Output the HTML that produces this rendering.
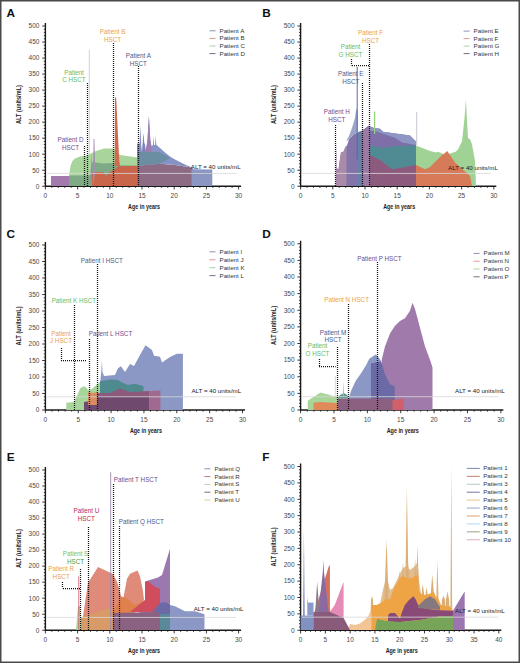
<!DOCTYPE html>
<html><head><meta charset="utf-8"><style>
html,body{margin:0;padding:0;background:#fff;}
svg{display:block;}
</style></head><body>
<svg width="520" height="663" viewBox="0 0 520 663" font-family='"Liberation Sans", sans-serif'>
<rect x="0" y="0" width="520" height="663" fill="#fff"/>
<path d="M42.20 186.25H45.40M43.80 183.04H45.40M43.80 179.84H45.40M43.80 176.63H45.40M43.80 173.43H45.40M42.20 170.22H45.40M43.80 167.02H45.40M43.80 163.81H45.40M43.80 160.61H45.40M43.80 157.41H45.40M42.20 154.20H45.40M43.80 151.00H45.40M43.80 147.79H45.40M43.80 144.59H45.40M43.80 141.38H45.40M42.20 138.18H45.40M43.80 134.97H45.40M43.80 131.76H45.40M43.80 128.56H45.40M43.80 125.35H45.40M42.20 122.15H45.40M43.80 118.94H45.40M43.80 115.74H45.40M43.80 112.53H45.40M43.80 109.33H45.40M42.20 106.12H45.40M43.80 102.92H45.40M43.80 99.72H45.40M43.80 96.51H45.40M43.80 93.30H45.40M42.20 90.10H45.40M43.80 86.89H45.40M43.80 83.69H45.40M43.80 80.48H45.40M43.80 77.28H45.40M42.20 74.08H45.40M43.80 70.87H45.40M43.80 67.66H45.40M43.80 64.46H45.40M43.80 61.25H45.40M42.20 58.05H45.40M43.80 54.84H45.40M43.80 51.64H45.40M43.80 48.44H45.40M43.80 45.23H45.40M42.20 42.03H45.40M43.80 38.82H45.40M43.80 35.62H45.40M43.80 32.41H45.40M43.80 29.20H45.40M42.20 26.00H45.40M45.40 186.25V189.45M51.84 186.25V187.85M58.28 186.25V187.85M64.72 186.25V187.85M71.16 186.25V187.85M77.60 186.25V189.45M84.04 186.25V187.85M90.48 186.25V187.85M96.92 186.25V187.85M103.36 186.25V187.85M109.80 186.25V189.45M116.24 186.25V187.85M122.68 186.25V187.85M129.12 186.25V187.85M135.56 186.25V187.85M142.00 186.25V189.45M148.44 186.25V187.85M154.88 186.25V187.85M161.32 186.25V187.85M167.76 186.25V187.85M174.20 186.25V189.45M180.64 186.25V187.85M187.08 186.25V187.85M193.52 186.25V187.85M199.96 186.25V187.85M206.40 186.25V189.45M212.84 186.25V187.85M219.28 186.25V187.85M225.72 186.25V187.85M232.16 186.25V187.85M238.60 186.25V189.45" stroke="#222" stroke-width="0.9" fill="none"/>
<path d="M45.40 23.00V186.25H241.10" stroke="#1a1a1a" stroke-width="1.4" fill="none"/>
<g font-size="6.5" fill="#484848"><text x="39.40" y="188.55" text-anchor="end">0</text><text x="39.40" y="172.53" text-anchor="end">50</text><text x="39.40" y="156.50" text-anchor="end">100</text><text x="39.40" y="140.48" text-anchor="end">150</text><text x="39.40" y="124.45" text-anchor="end">200</text><text x="39.40" y="108.42" text-anchor="end">250</text><text x="39.40" y="92.40" text-anchor="end">300</text><text x="39.40" y="76.38" text-anchor="end">350</text><text x="39.40" y="60.35" text-anchor="end">400</text><text x="39.40" y="44.33" text-anchor="end">450</text><text x="39.40" y="28.30" text-anchor="end">500</text><text x="45.40" y="198.45" text-anchor="middle">0</text><text x="77.60" y="198.45" text-anchor="middle">5</text><text x="109.80" y="198.45" text-anchor="middle">10</text><text x="142.00" y="198.45" text-anchor="middle">15</text><text x="174.20" y="198.45" text-anchor="middle">20</text><text x="206.40" y="198.45" text-anchor="middle">25</text><text x="238.60" y="198.45" text-anchor="middle">30</text></g>
<text transform="translate(20.90,104.62) rotate(-90)" text-anchor="middle" font-size="7.4" font-weight="bold" fill="#222" textLength="39" lengthAdjust="spacingAndGlyphs">ALT (units/mL)</text>
<text x="144.00" y="209.25" text-anchor="middle" font-size="7.4" font-weight="bold" fill="#222" textLength="32" lengthAdjust="spacingAndGlyphs">Age in years</text>
<text x="6.5" y="17" font-size="11.8" font-weight="bold" fill="#111">A</text>
<path d="M297.40 186.25H300.60M299.00 183.04H300.60M299.00 179.84H300.60M299.00 176.63H300.60M299.00 173.43H300.60M297.40 170.22H300.60M299.00 167.02H300.60M299.00 163.81H300.60M299.00 160.61H300.60M299.00 157.41H300.60M297.40 154.20H300.60M299.00 151.00H300.60M299.00 147.79H300.60M299.00 144.59H300.60M299.00 141.38H300.60M297.40 138.18H300.60M299.00 134.97H300.60M299.00 131.76H300.60M299.00 128.56H300.60M299.00 125.35H300.60M297.40 122.15H300.60M299.00 118.94H300.60M299.00 115.74H300.60M299.00 112.53H300.60M299.00 109.33H300.60M297.40 106.12H300.60M299.00 102.92H300.60M299.00 99.72H300.60M299.00 96.51H300.60M299.00 93.30H300.60M297.40 90.10H300.60M299.00 86.89H300.60M299.00 83.69H300.60M299.00 80.48H300.60M299.00 77.28H300.60M297.40 74.08H300.60M299.00 70.87H300.60M299.00 67.66H300.60M299.00 64.46H300.60M299.00 61.25H300.60M297.40 58.05H300.60M299.00 54.84H300.60M299.00 51.64H300.60M299.00 48.44H300.60M299.00 45.23H300.60M297.40 42.03H300.60M299.00 38.82H300.60M299.00 35.62H300.60M299.00 32.41H300.60M299.00 29.20H300.60M297.40 26.00H300.60M300.60 186.25V189.45M307.04 186.25V187.85M313.48 186.25V187.85M319.92 186.25V187.85M326.36 186.25V187.85M332.80 186.25V189.45M339.24 186.25V187.85M345.68 186.25V187.85M352.12 186.25V187.85M358.56 186.25V187.85M365.00 186.25V189.45M371.44 186.25V187.85M377.88 186.25V187.85M384.32 186.25V187.85M390.76 186.25V187.85M397.20 186.25V189.45M403.64 186.25V187.85M410.08 186.25V187.85M416.52 186.25V187.85M422.96 186.25V187.85M429.40 186.25V189.45M435.84 186.25V187.85M442.28 186.25V187.85M448.72 186.25V187.85M455.16 186.25V187.85M461.60 186.25V189.45M468.04 186.25V187.85M474.48 186.25V187.85M480.92 186.25V187.85M487.36 186.25V187.85M493.80 186.25V189.45" stroke="#222" stroke-width="0.9" fill="none"/>
<path d="M300.60 23.00V186.25H496.30" stroke="#1a1a1a" stroke-width="1.4" fill="none"/>
<g font-size="6.5" fill="#484848"><text x="294.60" y="188.55" text-anchor="end">0</text><text x="294.60" y="172.53" text-anchor="end">50</text><text x="294.60" y="156.50" text-anchor="end">100</text><text x="294.60" y="140.48" text-anchor="end">150</text><text x="294.60" y="124.45" text-anchor="end">200</text><text x="294.60" y="108.42" text-anchor="end">250</text><text x="294.60" y="92.40" text-anchor="end">300</text><text x="294.60" y="76.38" text-anchor="end">350</text><text x="294.60" y="60.35" text-anchor="end">400</text><text x="294.60" y="44.33" text-anchor="end">450</text><text x="294.60" y="28.30" text-anchor="end">500</text><text x="300.60" y="198.45" text-anchor="middle">0</text><text x="332.80" y="198.45" text-anchor="middle">5</text><text x="365.00" y="198.45" text-anchor="middle">10</text><text x="397.20" y="198.45" text-anchor="middle">15</text><text x="429.40" y="198.45" text-anchor="middle">20</text><text x="461.60" y="198.45" text-anchor="middle">25</text><text x="493.80" y="198.45" text-anchor="middle">30</text></g>
<text transform="translate(276.10,104.62) rotate(-90)" text-anchor="middle" font-size="7.4" font-weight="bold" fill="#222" textLength="39" lengthAdjust="spacingAndGlyphs">ALT (units/mL)</text>
<text x="399.20" y="209.25" text-anchor="middle" font-size="7.4" font-weight="bold" fill="#222" textLength="32" lengthAdjust="spacingAndGlyphs">Age in years</text>
<text x="262.3" y="17" font-size="11.8" font-weight="bold" fill="#111">B</text>
<path d="M42.20 410.00H45.40M43.80 406.70H45.40M43.80 403.40H45.40M43.80 400.10H45.40M43.80 396.80H45.40M42.20 393.50H45.40M43.80 390.20H45.40M43.80 386.90H45.40M43.80 383.60H45.40M43.80 380.30H45.40M42.20 377.00H45.40M43.80 373.70H45.40M43.80 370.40H45.40M43.80 367.10H45.40M43.80 363.80H45.40M42.20 360.50H45.40M43.80 357.20H45.40M43.80 353.90H45.40M43.80 350.60H45.40M43.80 347.30H45.40M42.20 344.00H45.40M43.80 340.70H45.40M43.80 337.40H45.40M43.80 334.10H45.40M43.80 330.80H45.40M42.20 327.50H45.40M43.80 324.20H45.40M43.80 320.90H45.40M43.80 317.60H45.40M43.80 314.30H45.40M42.20 311.00H45.40M43.80 307.70H45.40M43.80 304.40H45.40M43.80 301.10H45.40M43.80 297.80H45.40M42.20 294.50H45.40M43.80 291.20H45.40M43.80 287.90H45.40M43.80 284.60H45.40M43.80 281.30H45.40M42.20 278.00H45.40M43.80 274.70H45.40M43.80 271.40H45.40M43.80 268.10H45.40M43.80 264.80H45.40M42.20 261.50H45.40M43.80 258.20H45.40M43.80 254.90H45.40M43.80 251.60H45.40M43.80 248.30H45.40M42.20 245.00H45.40M45.40 410.00V413.20M51.97 410.00V411.60M58.54 410.00V411.60M65.11 410.00V411.60M71.68 410.00V411.60M78.25 410.00V413.20M84.82 410.00V411.60M91.39 410.00V411.60M97.96 410.00V411.60M104.53 410.00V411.60M111.10 410.00V413.20M117.67 410.00V411.60M124.24 410.00V411.60M130.81 410.00V411.60M137.38 410.00V411.60M143.95 410.00V413.20M150.52 410.00V411.60M157.09 410.00V411.60M163.66 410.00V411.60M170.23 410.00V411.60M176.80 410.00V413.20M183.37 410.00V411.60M189.94 410.00V411.60M196.51 410.00V411.60M203.08 410.00V411.60M209.65 410.00V413.20M216.22 410.00V411.60M222.79 410.00V411.60M229.36 410.00V411.60M235.93 410.00V411.60M242.50 410.00V413.20" stroke="#222" stroke-width="0.9" fill="none"/>
<path d="M45.40 242.00V410.00H245.00" stroke="#1a1a1a" stroke-width="1.4" fill="none"/>
<g font-size="6.5" fill="#484848"><text x="39.40" y="412.30" text-anchor="end">0</text><text x="39.40" y="395.80" text-anchor="end">50</text><text x="39.40" y="379.30" text-anchor="end">100</text><text x="39.40" y="362.80" text-anchor="end">150</text><text x="39.40" y="346.30" text-anchor="end">200</text><text x="39.40" y="329.80" text-anchor="end">250</text><text x="39.40" y="313.30" text-anchor="end">300</text><text x="39.40" y="296.80" text-anchor="end">350</text><text x="39.40" y="280.30" text-anchor="end">400</text><text x="39.40" y="263.80" text-anchor="end">450</text><text x="39.40" y="247.30" text-anchor="end">500</text><text x="45.40" y="422.20" text-anchor="middle">0</text><text x="78.25" y="422.20" text-anchor="middle">5</text><text x="111.10" y="422.20" text-anchor="middle">10</text><text x="143.95" y="422.20" text-anchor="middle">15</text><text x="176.80" y="422.20" text-anchor="middle">20</text><text x="209.65" y="422.20" text-anchor="middle">25</text><text x="242.50" y="422.20" text-anchor="middle">30</text></g>
<text transform="translate(20.90,326.00) rotate(-90)" text-anchor="middle" font-size="7.4" font-weight="bold" fill="#222" textLength="39" lengthAdjust="spacingAndGlyphs">ALT (units/mL)</text>
<text x="145.95" y="433.00" text-anchor="middle" font-size="7.4" font-weight="bold" fill="#222" textLength="32" lengthAdjust="spacingAndGlyphs">Age in years</text>
<text x="6.5" y="237.5" font-size="11.8" font-weight="bold" fill="#111">C</text>
<path d="M297.40 410.00H300.60M299.00 406.68H300.60M299.00 403.35H300.60M299.00 400.02H300.60M299.00 396.70H300.60M297.40 393.38H300.60M299.00 390.05H300.60M299.00 386.73H300.60M299.00 383.40H300.60M299.00 380.07H300.60M297.40 376.75H300.60M299.00 373.43H300.60M299.00 370.10H300.60M299.00 366.77H300.60M299.00 363.45H300.60M297.40 360.12H300.60M299.00 356.80H300.60M299.00 353.48H300.60M299.00 350.15H300.60M299.00 346.82H300.60M297.40 343.50H300.60M299.00 340.18H300.60M299.00 336.85H300.60M299.00 333.52H300.60M299.00 330.20H300.60M297.40 326.88H300.60M299.00 323.55H300.60M299.00 320.23H300.60M299.00 316.90H300.60M299.00 313.57H300.60M297.40 310.25H300.60M299.00 306.93H300.60M299.00 303.60H300.60M299.00 300.27H300.60M299.00 296.95H300.60M297.40 293.62H300.60M299.00 290.30H300.60M299.00 286.98H300.60M299.00 283.65H300.60M299.00 280.32H300.60M297.40 277.00H300.60M299.00 273.67H300.60M299.00 270.35H300.60M299.00 267.02H300.60M299.00 263.70H300.60M297.40 260.38H300.60M299.00 257.05H300.60M299.00 253.72H300.60M299.00 250.40H300.60M299.00 247.07H300.60M297.40 243.75H300.60M300.60 410.00V413.20M307.28 410.00V411.60M313.95 410.00V411.60M320.62 410.00V411.60M327.30 410.00V411.60M333.98 410.00V413.20M340.65 410.00V411.60M347.33 410.00V411.60M354.00 410.00V411.60M360.68 410.00V411.60M367.35 410.00V413.20M374.03 410.00V411.60M380.70 410.00V411.60M387.38 410.00V411.60M394.05 410.00V411.60M400.73 410.00V413.20M407.40 410.00V411.60M414.08 410.00V411.60M420.75 410.00V411.60M427.43 410.00V411.60M434.10 410.00V413.20M440.77 410.00V411.60M447.45 410.00V411.60M454.12 410.00V411.60M460.80 410.00V411.60M467.48 410.00V413.20M474.15 410.00V411.60M480.83 410.00V411.60M487.50 410.00V411.60M494.18 410.00V411.60M500.85 410.00V413.20" stroke="#222" stroke-width="0.9" fill="none"/>
<path d="M300.60 240.75V410.00H503.35" stroke="#1a1a1a" stroke-width="1.4" fill="none"/>
<g font-size="6.5" fill="#484848"><text x="294.60" y="412.30" text-anchor="end">0</text><text x="294.60" y="395.68" text-anchor="end">50</text><text x="294.60" y="379.05" text-anchor="end">100</text><text x="294.60" y="362.43" text-anchor="end">150</text><text x="294.60" y="345.80" text-anchor="end">200</text><text x="294.60" y="329.18" text-anchor="end">250</text><text x="294.60" y="312.55" text-anchor="end">300</text><text x="294.60" y="295.93" text-anchor="end">350</text><text x="294.60" y="279.30" text-anchor="end">400</text><text x="294.60" y="262.68" text-anchor="end">450</text><text x="294.60" y="246.05" text-anchor="end">500</text><text x="300.60" y="422.20" text-anchor="middle">0</text><text x="333.98" y="422.20" text-anchor="middle">5</text><text x="367.35" y="422.20" text-anchor="middle">10</text><text x="400.73" y="422.20" text-anchor="middle">15</text><text x="434.10" y="422.20" text-anchor="middle">20</text><text x="467.48" y="422.20" text-anchor="middle">25</text><text x="500.85" y="422.20" text-anchor="middle">30</text></g>
<text transform="translate(276.10,325.38) rotate(-90)" text-anchor="middle" font-size="7.4" font-weight="bold" fill="#222" textLength="39" lengthAdjust="spacingAndGlyphs">ALT (units/mL)</text>
<text x="402.73" y="433.00" text-anchor="middle" font-size="7.4" font-weight="bold" fill="#222" textLength="32" lengthAdjust="spacingAndGlyphs">Age in years</text>
<text x="262.3" y="238" font-size="11.8" font-weight="bold" fill="#111">D</text>
<path d="M42.20 630.25H45.40M43.80 627.04H45.40M43.80 623.84H45.40M43.80 620.63H45.40M43.80 617.43H45.40M42.20 614.23H45.40M43.80 611.02H45.40M43.80 607.82H45.40M43.80 604.61H45.40M43.80 601.40H45.40M42.20 598.20H45.40M43.80 595.00H45.40M43.80 591.79H45.40M43.80 588.59H45.40M43.80 585.38H45.40M42.20 582.17H45.40M43.80 578.97H45.40M43.80 575.76H45.40M43.80 572.56H45.40M43.80 569.36H45.40M42.20 566.15H45.40M43.80 562.94H45.40M43.80 559.74H45.40M43.80 556.53H45.40M43.80 553.33H45.40M42.20 550.12H45.40M43.80 546.92H45.40M43.80 543.72H45.40M43.80 540.51H45.40M43.80 537.30H45.40M42.20 534.10H45.40M43.80 530.89H45.40M43.80 527.69H45.40M43.80 524.49H45.40M43.80 521.28H45.40M42.20 518.08H45.40M43.80 514.87H45.40M43.80 511.66H45.40M43.80 508.46H45.40M43.80 505.25H45.40M42.20 502.05H45.40M43.80 498.85H45.40M43.80 495.64H45.40M43.80 492.44H45.40M43.80 489.23H45.40M42.20 486.02H45.40M43.80 482.82H45.40M43.80 479.62H45.40M43.80 476.41H45.40M43.80 473.20H45.40M42.20 470.00H45.40M45.40 630.25V633.45M51.84 630.25V631.85M58.28 630.25V631.85M64.72 630.25V631.85M71.16 630.25V631.85M77.60 630.25V633.45M84.04 630.25V631.85M90.48 630.25V631.85M96.92 630.25V631.85M103.36 630.25V631.85M109.80 630.25V633.45M116.24 630.25V631.85M122.68 630.25V631.85M129.12 630.25V631.85M135.56 630.25V631.85M142.00 630.25V633.45M148.44 630.25V631.85M154.88 630.25V631.85M161.32 630.25V631.85M167.76 630.25V631.85M174.20 630.25V633.45M180.64 630.25V631.85M187.08 630.25V631.85M193.52 630.25V631.85M199.96 630.25V631.85M206.40 630.25V633.45M212.84 630.25V631.85M219.28 630.25V631.85M225.72 630.25V631.85M232.16 630.25V631.85M238.60 630.25V633.45" stroke="#222" stroke-width="0.9" fill="none"/>
<path d="M45.40 467.00V630.25H241.10" stroke="#1a1a1a" stroke-width="1.4" fill="none"/>
<g font-size="6.5" fill="#484848"><text x="39.40" y="632.55" text-anchor="end">0</text><text x="39.40" y="616.52" text-anchor="end">50</text><text x="39.40" y="600.50" text-anchor="end">100</text><text x="39.40" y="584.47" text-anchor="end">150</text><text x="39.40" y="568.45" text-anchor="end">200</text><text x="39.40" y="552.42" text-anchor="end">250</text><text x="39.40" y="536.40" text-anchor="end">300</text><text x="39.40" y="520.38" text-anchor="end">350</text><text x="39.40" y="504.35" text-anchor="end">400</text><text x="39.40" y="488.32" text-anchor="end">450</text><text x="39.40" y="472.30" text-anchor="end">500</text><text x="45.40" y="642.45" text-anchor="middle">0</text><text x="77.60" y="642.45" text-anchor="middle">5</text><text x="109.80" y="642.45" text-anchor="middle">10</text><text x="142.00" y="642.45" text-anchor="middle">15</text><text x="174.20" y="642.45" text-anchor="middle">20</text><text x="206.40" y="642.45" text-anchor="middle">25</text><text x="238.60" y="642.45" text-anchor="middle">30</text></g>
<text transform="translate(20.90,548.62) rotate(-90)" text-anchor="middle" font-size="7.4" font-weight="bold" fill="#222" textLength="39" lengthAdjust="spacingAndGlyphs">ALT (units/mL)</text>
<text x="144.00" y="653.25" text-anchor="middle" font-size="7.4" font-weight="bold" fill="#222" textLength="32" lengthAdjust="spacingAndGlyphs">Age in years</text>
<text x="6.8" y="461" font-size="11.8" font-weight="bold" fill="#111">E</text>
<path d="M297.40 630.25H300.60M299.00 626.98H300.60M299.00 623.70H300.60M299.00 620.42H300.60M299.00 617.15H300.60M297.40 613.88H300.60M299.00 610.60H300.60M299.00 607.33H300.60M299.00 604.05H300.60M299.00 600.77H300.60M297.40 597.50H300.60M299.00 594.23H300.60M299.00 590.95H300.60M299.00 587.67H300.60M299.00 584.40H300.60M297.40 581.12H300.60M299.00 577.85H300.60M299.00 574.58H300.60M299.00 571.30H300.60M299.00 568.02H300.60M297.40 564.75H300.60M299.00 561.48H300.60M299.00 558.20H300.60M299.00 554.92H300.60M299.00 551.65H300.60M297.40 548.38H300.60M299.00 545.10H300.60M299.00 541.83H300.60M299.00 538.55H300.60M299.00 535.27H300.60M297.40 532.00H300.60M299.00 528.73H300.60M299.00 525.45H300.60M299.00 522.17H300.60M299.00 518.90H300.60M297.40 515.62H300.60M299.00 512.35H300.60M299.00 509.07H300.60M299.00 505.80H300.60M299.00 502.52H300.60M297.40 499.25H300.60M299.00 495.98H300.60M299.00 492.70H300.60M299.00 489.42H300.60M299.00 486.15H300.60M297.40 482.88H300.60M299.00 479.60H300.60M299.00 476.32H300.60M299.00 473.05H300.60M299.00 469.77H300.60M297.40 466.50H300.60M300.60 630.25V633.45M305.56 630.25V631.85M310.51 630.25V631.85M315.47 630.25V631.85M320.42 630.25V631.85M325.38 630.25V633.45M330.33 630.25V631.85M335.29 630.25V631.85M340.24 630.25V631.85M345.20 630.25V631.85M350.15 630.25V633.45M355.11 630.25V631.85M360.06 630.25V631.85M365.02 630.25V631.85M369.97 630.25V631.85M374.93 630.25V633.45M379.88 630.25V631.85M384.84 630.25V631.85M389.79 630.25V631.85M394.75 630.25V631.85M399.70 630.25V633.45M404.66 630.25V631.85M409.61 630.25V631.85M414.57 630.25V631.85M419.52 630.25V631.85M424.48 630.25V633.45M429.43 630.25V631.85M434.38 630.25V631.85M439.34 630.25V631.85M444.30 630.25V631.85M449.25 630.25V633.45M454.21 630.25V631.85M459.16 630.25V631.85M464.12 630.25V631.85M469.07 630.25V631.85M474.03 630.25V633.45M478.98 630.25V631.85M483.94 630.25V631.85M488.89 630.25V631.85M493.85 630.25V631.85M498.80 630.25V633.45" stroke="#222" stroke-width="0.9" fill="none"/>
<path d="M300.60 463.50V630.25H501.30" stroke="#1a1a1a" stroke-width="1.4" fill="none"/>
<g font-size="6.5" fill="#484848"><text x="294.60" y="632.55" text-anchor="end">0</text><text x="294.60" y="616.17" text-anchor="end">50</text><text x="294.60" y="599.80" text-anchor="end">100</text><text x="294.60" y="583.42" text-anchor="end">150</text><text x="294.60" y="567.05" text-anchor="end">200</text><text x="294.60" y="550.67" text-anchor="end">250</text><text x="294.60" y="534.30" text-anchor="end">300</text><text x="294.60" y="517.92" text-anchor="end">350</text><text x="294.60" y="501.55" text-anchor="end">400</text><text x="294.60" y="485.18" text-anchor="end">450</text><text x="294.60" y="468.80" text-anchor="end">500</text><text x="300.60" y="642.45" text-anchor="middle">0</text><text x="325.38" y="642.45" text-anchor="middle">5</text><text x="350.15" y="642.45" text-anchor="middle">10</text><text x="374.93" y="642.45" text-anchor="middle">15</text><text x="399.70" y="642.45" text-anchor="middle">20</text><text x="424.48" y="642.45" text-anchor="middle">25</text><text x="449.25" y="642.45" text-anchor="middle">30</text><text x="474.03" y="642.45" text-anchor="middle">35</text><text x="498.80" y="642.45" text-anchor="middle">40</text></g>
<text transform="translate(276.10,546.88) rotate(-90)" text-anchor="middle" font-size="7.4" font-weight="bold" fill="#222" textLength="39" lengthAdjust="spacingAndGlyphs">ALT (units/mL)</text>
<text x="401.70" y="653.25" text-anchor="middle" font-size="7.4" font-weight="bold" fill="#222" textLength="32" lengthAdjust="spacingAndGlyphs">Age in years</text>
<text x="262.3" y="460.8" font-size="11.8" font-weight="bold" fill="#111">F</text>
<polygon points="69.00,186.00 69.30,175.00 70.50,166.00 72.50,161.00 75.00,158.50 80.00,156.50 88.00,155.00 92.00,153.00 96.00,151.00 104.00,148.50 112.50,148.50 116.00,151.00 120.00,155.00 136.00,157.20 160.00,158.00 160.00,186.00" fill="#a9d49b"/>
<path d="M89.30 50.00V186.00" stroke="#c4c8c4" stroke-width="0.8"/>
<polygon points="69.00,186.00 69.00,175.60 90.00,175.60 92.00,162.00 103.00,163.60 112.00,163.00 120.00,165.20 137.00,165.70 137.00,186.00" fill="#7eaa85"/>
<polygon points="92.00,186.00 92.00,172.00 103.00,172.00 106.00,175.70 110.00,172.00 114.00,170.00 118.00,166.20 137.00,165.70 137.00,186.00" fill="#c8654b"/>
<polygon points="114.60,172.00 115.00,97.00 116.20,98.00 117.50,125.00 119.20,160.00 120.00,166.00 114.60,166.00" fill="#d36a50"/>
<polygon points="90.50,186.00 91.30,153.50 92.20,175.00" fill="#9a88a8"/>
<polygon points="93.00,186.00 93.60,139.00 94.40,139.00 95.30,172.00" fill="#a58cb0"/>
<polygon points="51.00,186.00 51.00,176.00 69.00,176.00 69.00,186.00" fill="#a37aae"/>
<polygon points="137.00,186.00 137.00,165.70 160.00,163.80 175.00,165.00 191.90,167.50 191.90,186.00" fill="#8e6b85"/>
<polygon points="137.00,165.70 137.00,143.50 139.60,143.50 140.50,125.40 141.30,146.00 142.10,152.50 143.00,140.00 143.50,133.50 144.20,143.00 144.90,144.00 146.00,150.70 147.50,140.00 148.90,116.30 150.30,140.00 151.50,146.00 153.00,145.00 153.50,135.80 154.10,145.00 155.10,145.00 155.70,135.80 156.30,144.80 160.00,148.00 165.00,152.50 170.00,156.50 175.00,159.50 180.00,162.00 185.00,164.50 191.90,167.50 175.00,165.00 160.00,163.80" fill="#8793c4"/>
<polygon points="137.00,165.70 137.00,152.00 158.00,152.00 164.00,154.50 170.00,158.00 160.00,163.80" fill="#6b8ea3"/>
<polygon points="145.50,152.00 147.50,140.00 148.90,116.30 150.30,140.00 152.00,152.00" fill="#a07cb2"/>
<polygon points="142.30,152.00 143.00,140.00 143.50,133.50 144.20,143.00 145.00,152.00" fill="#7f7fb3"/>
<polygon points="191.90,186.00 191.90,167.50 194.00,169.30 212.30,169.50 212.30,186.00" fill="#8b97c2"/>
<path d="M47.00 173.43H236.00" stroke="#d8d8d8" stroke-width="0.8"/>
<text x="190.8" y="168.8" font-size="6.2" fill="#222">ALT = 40 units/mL</text>
<path d="M84.50 146.00V186.00" stroke="#111" stroke-width="1.25" stroke-dasharray="1,1"/>
<path d="M87.50 83.00V186.00" stroke="#111" stroke-width="1.25" stroke-dasharray="1,1"/>
<path d="M113.50 43.00V186.00" stroke="#111" stroke-width="1.25" stroke-dasharray="1,1"/>
<path d="M138.50 66.00V186.00" stroke="#111" stroke-width="1.25" stroke-dasharray="1,1"/>
<text x="112.60" y="34.00" text-anchor="middle" font-size="6.3" fill="#eaa24e">Patient B</text><text x="112.60" y="41.90" text-anchor="middle" font-size="6.3" fill="#eaa24e">HSCT</text>
<text x="138.30" y="58.10" text-anchor="middle" font-size="6.3" fill="#485c8c">Patient A</text><text x="138.30" y="66.00" text-anchor="middle" font-size="6.3" fill="#485c8c">HSCT</text>
<text x="74.00" y="74.50" text-anchor="middle" font-size="6.3" fill="#68bb66">Patient</text><text x="74.00" y="82.40" text-anchor="middle" font-size="6.3" fill="#68bb66">C HSCT</text>
<text x="70.50" y="142.00" text-anchor="middle" font-size="6.3" fill="#6f4d8e">Patient D</text><text x="70.50" y="149.90" text-anchor="middle" font-size="6.3" fill="#6f4d8e">HSCT</text>
<path d="M209.50 30.80h6" stroke="#8a93b8" stroke-width="1"/><text x="219.50" y="32.80" font-size="6.2" fill="#333">Patient A</text><path d="M209.50 38.40h6" stroke="#dc9a90" stroke-width="1"/><text x="219.50" y="40.40" font-size="6.2" fill="#333">Patient B</text><path d="M209.50 46.00h6" stroke="#a9d3a0" stroke-width="1"/><text x="219.50" y="48.00" font-size="6.2" fill="#333">Patient C</text><path d="M209.50 53.60h6" stroke="#7a6a80" stroke-width="1"/><text x="219.50" y="55.60" font-size="6.2" fill="#333">Patient D</text>
<polygon points="335.70,186.00 336.00,168.20 338.50,169.30 341.00,152.30 343.50,151.80 345.50,146.70 347.00,145.50 349.00,139.30 354.00,134.20 357.70,132.50 362.00,130.80 368.50,125.70 374.00,128.00 380.00,128.70 383.00,131.70 410.00,135.40 416.00,141.40 416.00,186.00" fill="#8273a8"/>
<polygon points="335.70,186.00 336.00,168.20 338.50,169.30 341.00,152.30 343.50,151.80 345.50,146.70 346.50,146.00 346.50,186.00" fill="#a98aab"/>
<polygon points="358.00,186.00 358.00,132.30 362.40,130.80 362.40,186.00" fill="#6a7fa6"/>
<polygon points="362.40,186.00 362.40,130.80 368.50,125.70 369.50,126.00 369.50,186.00" fill="#9c7aa4"/>
<polygon points="369.50,126.00 374.00,128.00 380.00,128.70 383.00,131.70 410.00,135.40 416.00,141.40 416.00,145.00 369.50,145.00" fill="#8e96c4"/>
<polygon points="369.50,131.00 375.00,131.00 395.00,137.80 402.00,142.60 416.00,145.00 416.00,150.00 369.50,150.00" fill="#7e6fa8"/>
<polygon points="369.50,150.00 372.00,146.00 383.00,148.00 395.00,146.00 416.00,145.50 416.00,165.00 400.00,168.00 392.00,169.20 380.00,160.00 369.50,155.00" fill="#508a92"/>
<polygon points="369.50,155.00 380.00,160.00 392.00,169.20 400.00,168.00 416.00,165.00 416.00,186.00 369.50,186.00" fill="#8b5a7d"/>
<polygon points="335.80,170.00 336.20,142.00 336.70,170.00" fill="#a98aab"/>
<polygon points="346.00,141.50 349.00,136.00 352.00,128.00 355.00,118.00 356.40,108.00 357.70,112.00 357.70,132.50 354.00,134.20 349.00,139.30" fill="#9aa3c8"/>
<path d="M357.20 67.00V159.00" stroke="#5a69a5" stroke-width="1.0"/>
<polygon points="416.00,145.50 430.00,151.00 436.00,152.60 438.00,151.80 446.00,154.90 455.60,151.80 458.00,149.60 462.00,141.30 464.50,118.00 465.90,99.80 467.00,120.00 468.00,138.30 470.00,139.00 472.00,144.30 475.00,160.90 476.00,186.00 416.00,186.00" fill="#a1d295"/>
<polygon points="416.00,165.00 425.00,169.20 430.00,167.00 440.00,157.00 447.30,151.10 455.00,162.40 470.00,176.00 472.00,186.00 416.00,186.00" fill="#d77a58"/>
<path d="M374.60 111.50V134.00" stroke="#92d07a" stroke-width="1.2"/>
<path d="M416.70 111.80V145.00" stroke="#b0b0c0" stroke-width="0.7"/>
<path d="M302.00 173.43H491.00" stroke="#d8d8d8" stroke-width="0.8"/>
<text x="448.1" y="170" font-size="6.2" fill="#222">ALT = 40 units/mL</text>
<path d="M335.50 125.00V186.00" stroke="#111" stroke-width="1.25" stroke-dasharray="1,1"/>
<path d="M362.50 83.00V186.00" stroke="#111" stroke-width="1.25" stroke-dasharray="1,1"/>
<path d="M369.50 44.00V186.00" stroke="#111" stroke-width="1.25" stroke-dasharray="1,1"/>
<path d="M351.50 59.00V65.40" stroke="#111" stroke-width="1.25" stroke-dasharray="1,1"/>
<path d="M352.00 65.50H369.00" stroke="#111" stroke-width="1.25" stroke-dasharray="1,1"/>
<text x="370.60" y="35.00" text-anchor="middle" font-size="6.3" fill="#eaa24e">Patient F</text><text x="370.60" y="42.90" text-anchor="middle" font-size="6.3" fill="#eaa24e">HSCT</text>
<text x="350.50" y="48.80" text-anchor="middle" font-size="6.3" fill="#68bb66">Patient</text><text x="350.50" y="56.70" text-anchor="middle" font-size="6.3" fill="#68bb66">G HSCT</text>
<text x="350.80" y="76.20" text-anchor="middle" font-size="6.3" fill="#485c8c">Patient E</text><text x="350.80" y="84.10" text-anchor="middle" font-size="6.3" fill="#485c8c">HSCT</text>
<text x="336.80" y="113.80" text-anchor="middle" font-size="6.3" fill="#6f4d8e">Patient H</text><text x="336.80" y="121.70" text-anchor="middle" font-size="6.3" fill="#6f4d8e">HSCT</text>
<path d="M463.60 31.10h6" stroke="#8a93b8" stroke-width="1"/><text x="473.60" y="33.10" font-size="6.2" fill="#333">Patient E</text><path d="M463.60 38.60h6" stroke="#dc9a90" stroke-width="1"/><text x="473.60" y="40.60" font-size="6.2" fill="#333">Patient F</text><path d="M463.60 46.10h6" stroke="#a9d3a0" stroke-width="1"/><text x="473.60" y="48.10" font-size="6.2" fill="#333">Patient G</text><path d="M463.60 53.60h6" stroke="#7a6a80" stroke-width="1"/><text x="473.60" y="55.60" font-size="6.2" fill="#333">Patient H</text>
<polygon points="66.30,410.00 66.30,402.70 74.00,401.90 77.10,395.40 80.10,388.50 83.60,386.30 86.20,387.60 88.30,390.60 91.40,389.30 100.00,382.00 100.00,410.00" fill="#a8d69a"/>
<polygon points="100.00,410.00 100.00,383.00 101.30,372.00 101.90,360.60 102.50,372.00 104.00,376.00 115.00,375.00 118.00,368.30 121.00,366.30 125.00,372.10 130.00,364.00 134.00,366.00 140.00,355.00 145.50,345.20 152.00,350.00 154.00,355.80 160.00,356.70 162.00,362.50 170.00,357.00 177.00,353.80 182.90,353.80 182.90,410.00" fill="#8b97c4"/>
<polygon points="100.00,393.00 100.00,381.20 110.00,379.40 118.00,380.00 122.00,382.50 128.00,385.00 135.00,383.75 143.50,386.25 143.50,393.00" fill="#4e8a8e"/>
<polygon points="97.00,397.00 97.00,393.00 110.00,393.00 120.00,388.50 130.00,392.00 149.20,391.00 149.20,397.00" fill="#8b5a7c"/>
<polygon points="84.00,410.00 84.00,402.00 97.00,400.00 97.00,397.00 149.20,397.00 149.20,410.00" fill="#6f4a6e"/>
<polygon points="149.20,410.00 149.20,391.00 160.40,390.40 160.40,410.00" fill="#a06a90"/>
<polygon points="88.00,405.00 88.00,392.00 93.00,393.00 97.00,392.00 97.00,405.00" fill="#d98c60"/>
<path d="M47.00 396.80H236.00" stroke="#d8d8d8" stroke-width="0.8"/>
<text x="191.4" y="392.5" font-size="6.2" fill="#222">ALT = 40 units/mL</text>
<path d="M74.50 305.00V410.00" stroke="#111" stroke-width="1.25" stroke-dasharray="1,1"/>
<path d="M89.50 339.00V410.00" stroke="#111" stroke-width="1.25" stroke-dasharray="1,1"/>
<path d="M97.50 264.00V410.00" stroke="#111" stroke-width="1.25" stroke-dasharray="1,1"/>
<path d="M61.50 348.00V360.60" stroke="#111" stroke-width="1.25" stroke-dasharray="1,1"/>
<path d="M61.00 360.50H86.20" stroke="#111" stroke-width="1.25" stroke-dasharray="1,1"/>
<text x="101.80" y="262.50" text-anchor="middle" font-size="6.3" fill="#485c8c">Patient I HSCT</text>
<text x="73.90" y="303.20" text-anchor="middle" font-size="6.3" fill="#68bb66">Patient K HSCT</text>
<text x="61.00" y="335.60" text-anchor="middle" font-size="6.3" fill="#eaa24e">Patient</text><text x="61.00" y="343.30" text-anchor="middle" font-size="6.3" fill="#eaa24e">J HSCT</text>
<text x="110.50" y="335.60" text-anchor="middle" font-size="6.3" fill="#6f4d8e">Patient L HSCT</text>
<path d="M209.50 251.80h6" stroke="#8a93b8" stroke-width="1"/><text x="219.50" y="253.80" font-size="6.2" fill="#333">Patient I</text><path d="M209.50 259.75h6" stroke="#dc9a90" stroke-width="1"/><text x="219.50" y="261.75" font-size="6.2" fill="#333">Patient J</text><path d="M209.50 267.70h6" stroke="#a9d3a0" stroke-width="1"/><text x="219.50" y="269.70" font-size="6.2" fill="#333">Patient K</text><path d="M209.50 275.65h6" stroke="#7a6a80" stroke-width="1"/><text x="219.50" y="277.65" font-size="6.2" fill="#333">Patient L</text>
<polygon points="307.70,410.00 307.70,400.70 320.50,392.60 335.00,396.60 337.50,396.60 337.50,410.00" fill="#a8d69a"/>
<polygon points="313.50,410.00 313.50,402.70 320.00,402.00 337.50,403.00 337.50,410.00" fill="#e08a5a"/>
<polygon points="381.70,410.00 381.70,359.80 385.00,346.60 390.00,333.40 395.00,325.80 400.00,321.10 405.00,318.30 410.00,310.80 412.50,302.80 415.00,308.90 420.00,327.70 425.00,346.60 430.00,359.80 432.50,367.40 432.50,410.00" fill="#a07aaa"/>
<polygon points="349.00,410.00 349.00,398.00 350.80,391.60 355.60,381.00 360.90,373.60 366.20,365.10 369.30,358.80 375.70,354.50 378.90,357.70 381.00,360.90 371.00,363.00 371.00,410.00" fill="#8b97c4"/>
<polygon points="371.00,410.00 371.00,363.00 376.00,362.00 381.00,360.90 385.00,374.60 390.00,384.20 394.70,386.30 394.70,410.00" fill="#6c6aa6"/>
<polygon points="337.50,398.60 340.00,395.00 344.00,393.00 348.30,396.00 348.30,398.60" fill="#5a9a8e"/>
<polygon points="342.80,396.00 343.40,381.20 344.00,396.00" fill="#8ac0a8"/>
<path d="M335.30 375.80V400.00" stroke="#b8c0b8" stroke-width="0.6"/>
<polygon points="337.50,410.00 337.50,398.60 394.70,398.60 394.70,410.00" fill="#8b6080"/>
<polygon points="392.50,410.00 392.50,400.50 398.00,399.50 404.00,398.50 404.00,410.00" fill="#d2606a"/>
<path d="M302.00 396.70H498.70" stroke="#d8d8d8" stroke-width="0.8"/>
<text x="455" y="393.1" font-size="6.2" fill="#222">ALT = 40 units/mL</text>
<path d="M337.50 347.00V410.00" stroke="#111" stroke-width="1.25" stroke-dasharray="1,1"/>
<path d="M348.50 304.00V410.00" stroke="#111" stroke-width="1.25" stroke-dasharray="1,1"/>
<path d="M377.50 262.00V410.00" stroke="#111" stroke-width="1.25" stroke-dasharray="1,1"/>
<path d="M319.50 359.00V366.30" stroke="#111" stroke-width="1.25" stroke-dasharray="1,1"/>
<path d="M319.00 366.50H335.60" stroke="#111" stroke-width="1.25" stroke-dasharray="1,1"/>
<text x="379.50" y="261.00" text-anchor="middle" font-size="6.3" fill="#6f4d8e">Patient P HSCT</text>
<text x="346.60" y="301.60" text-anchor="middle" font-size="6.3" fill="#eaa24e">Patient N HSCT</text>
<text x="333.00" y="334.60" text-anchor="middle" font-size="6.3" fill="#485c8c">Patient M</text><text x="333.00" y="342.30" text-anchor="middle" font-size="6.3" fill="#485c8c">HSCT</text>
<text x="317.50" y="347.70" text-anchor="middle" font-size="6.3" fill="#68bb66">Patient</text><text x="317.50" y="355.80" text-anchor="middle" font-size="6.3" fill="#68bb66">O HSCT</text>
<path d="M473.60 253.40h6" stroke="#8a93b8" stroke-width="1"/><text x="483.60" y="255.40" font-size="6.2" fill="#333">Patient M</text><path d="M473.60 261.20h6" stroke="#dc9a90" stroke-width="1"/><text x="483.60" y="263.20" font-size="6.2" fill="#333">Patient N</text><path d="M473.60 269.00h6" stroke="#a9d3a0" stroke-width="1"/><text x="483.60" y="271.00" font-size="6.2" fill="#333">Patient O</text><path d="M473.60 276.80h6" stroke="#7a6a80" stroke-width="1"/><text x="483.60" y="278.80" font-size="6.2" fill="#333">Patient P</text>
<polygon points="113.00,630.00 140.00,612.30 150.00,606.00 160.00,603.10 166.00,602.00 170.00,605.00 175.00,606.25 185.00,611.30 195.00,611.30 204.50,614.20 204.50,630.00" fill="#8b97c4"/>
<polygon points="81.00,630.00 88.00,582.80 98.00,567.10 113.00,574.10 117.00,581.70 119.00,588.30 121.00,595.90 123.50,597.50 127.00,578.75 130.00,573.75 137.50,570.60 140.00,576.25 143.00,591.25 144.00,600.00 135.00,612.50 120.00,612.00 113.00,612.00 113.00,630.00" fill="#e08a7a"/>
<polygon points="80.50,630.00 80.50,618.00 85.00,616.00 90.00,614.50 100.00,611.00 108.00,608.40 113.00,608.40 113.00,630.00" fill="#d89a66"/>
<polygon points="113.00,612.00 120.00,598.00 125.00,597.00 135.00,605.00 145.00,600.00 135.00,612.50 113.00,614.00" fill="#e0804a"/>
<polygon points="145.00,630.00 145.00,581.50 158.00,577.50 162.00,575.00 170.00,548.80 170.00,630.00" fill="#9c78b0"/>
<polygon points="130.00,612.00 145.00,600.00 145.00,581.90 148.00,581.25 155.00,586.90 160.00,588.75 160.00,612.00" fill="#cf4d5c"/>
<polygon points="150.00,615.00 160.00,603.10 166.00,602.00 170.00,605.00 170.00,615.00" fill="#6c6aa6"/>
<polygon points="113.00,630.00 113.00,613.00 135.00,612.50 160.00,612.00 160.00,630.00" fill="#8c6282"/>
<polygon points="160.00,630.00 160.00,614.00 170.00,614.00 170.00,630.00" fill="#5a8a9a"/>
<polygon points="76.00,630.00 78.00,606.00 80.00,606.00 81.00,630.00" fill="#a8d69a"/>
<path d="M78.70 576.30V630.00" stroke="#d06070" stroke-width="0.8"/>
<path d="M110.70 472.30V630.00" stroke="#9a88aa" stroke-width="0.9"/>
<path d="M47.00 617.43H236.00" stroke="#d8d8d8" stroke-width="0.8"/>
<text x="193.7" y="611.3" font-size="6.2" fill="#222">ALT = 40 units/mL</text>
<path d="M80.50 569.00V630.00" stroke="#111" stroke-width="1.25" stroke-dasharray="1,1"/>
<path d="M88.50 527.00V630.00" stroke="#111" stroke-width="1.25" stroke-dasharray="1,1"/>
<path d="M113.50 484.00V630.00" stroke="#111" stroke-width="1.25" stroke-dasharray="1,1"/>
<path d="M119.50 526.00V630.00" stroke="#111" stroke-width="1.25" stroke-dasharray="1,1"/>
<path d="M62.50 582.00V588.30" stroke="#111" stroke-width="1.25" stroke-dasharray="1,1"/>
<path d="M63.00 588.50H80.40" stroke="#111" stroke-width="1.25" stroke-dasharray="1,1"/>
<text x="135.80" y="481.50" text-anchor="middle" font-size="6.3" fill="#6f4d8e">Patient T HSCT</text>
<text x="86.40" y="513.30" text-anchor="middle" font-size="6.3" fill="#c02a4a">Patient U</text><text x="86.40" y="521.00" text-anchor="middle" font-size="6.3" fill="#c02a4a">HSCT</text>
<text x="141.30" y="524.30" text-anchor="middle" font-size="6.3" fill="#485c8c">Patient Q HSCT</text>
<text x="75.50" y="555.60" text-anchor="middle" font-size="6.3" fill="#6fbf6c">Patient S</text>
<text x="75.50" y="564.20" text-anchor="middle" font-size="6.3" fill="#3f9f45">HSCT</text>
<text x="61.20" y="571.00" text-anchor="middle" font-size="6.3" fill="#eaa24e">Patient R</text><text x="61.20" y="578.70" text-anchor="middle" font-size="6.3" fill="#eaa24e">HSCT</text>
<path d="M204.40 468.80h6" stroke="#8a93b8" stroke-width="1"/><text x="214.40" y="470.80" font-size="6.2" fill="#333">Patient Q</text><path d="M204.40 476.60h6" stroke="#b07a90" stroke-width="1"/><text x="214.40" y="478.60" font-size="6.2" fill="#333">Patient R</text><path d="M204.40 484.40h6" stroke="#b9d3b0" stroke-width="1"/><text x="214.40" y="486.40" font-size="6.2" fill="#333">Patient S</text><path d="M204.40 492.20h6" stroke="#7a6a80" stroke-width="1"/><text x="214.40" y="494.20" font-size="6.2" fill="#333">Patient T</text><path d="M204.40 500.00h6" stroke="#d9d0a0" stroke-width="1"/><text x="214.40" y="502.00" font-size="6.2" fill="#333">Patient U</text>
<polygon points="348.00,630.00 350.00,624.00 355.00,625.00 360.00,623.40 365.00,619.70 368.00,616.60 370.00,612.30 372.00,609.20 375.00,606.00 380.00,603.00 385.00,600.00 385.00,630.00" fill="#f3c594"/>
<polygon points="380.00,604.00 383.00,590.00 386.50,575.00 390.00,590.00 393.00,588.00 396.00,582.00 399.70,574.00 403.00,568.00 406.90,566.00 410.00,570.00 415.10,566.00 417.50,562.00 419.00,580.00 421.00,594.00 371.50,606.00" fill="#e2bd8f"/>
<polygon points="370.70,612.00 370.96,600.00 371.61,597.53 372.00,596.20 372.39,597.53 373.04,600.00 373.30,612.00" fill="#dcae78"/>
<polygon points="383.90,612.00 384.42,600.00 385.72,560.48 386.50,539.20 387.28,560.48 388.58,600.00 389.10,612.00" fill="#dcae78"/>
<polygon points="392.60,612.00 393.00,600.00 394.00,589.99 394.60,584.60 395.20,589.99 396.20,600.00 396.60,612.00" fill="#dcae78"/>
<polygon points="397.30,612.00 397.78,600.00 398.98,580.63 399.70,570.20 400.42,580.63 401.62,600.00 402.10,612.00" fill="#dcae78"/>
<polygon points="400.60,612.00 401.08,600.00 402.28,574.98 403.00,561.50 403.72,574.98 404.92,600.00 405.40,612.00" fill="#dcae78"/>
<polygon points="404.70,612.00 405.14,600.00 406.24,526.55 406.90,487.00 407.56,526.55 408.66,600.00 409.10,612.00" fill="#dcae78"/>
<polygon points="407.00,612.00 407.36,600.00 408.26,575.62 408.80,562.50 409.34,575.62 410.24,600.00 410.60,612.00" fill="#dcae78"/>
<polygon points="412.90,612.00 413.34,600.00 414.44,572.50 415.10,557.70 415.76,572.50 416.86,600.00 417.30,612.00" fill="#dcae78"/>
<polygon points="415.50,612.00 415.90,600.00 416.90,563.99 417.50,544.60 418.10,563.99 419.10,600.00 419.50,612.00" fill="#dcae78"/>
<polygon points="420.40,612.00 420.88,600.00 422.08,589.40 422.80,583.70 423.52,589.40 424.72,600.00 425.20,612.00" fill="#dcae78"/>
<polygon points="424.40,612.00 424.84,600.00 425.94,591.49 426.60,586.90 427.26,591.49 428.36,600.00 428.80,612.00" fill="#dcae78"/>
<polygon points="429.70,612.00 430.22,600.00 431.52,583.49 432.30,574.60 433.08,583.49 434.38,600.00 434.90,612.00" fill="#dcae78"/>
<polygon points="436.00,612.00 436.28,600.00 436.98,574.52 437.40,560.80 437.82,574.52 438.52,600.00 438.80,612.00" fill="#dcae78"/>
<polygon points="441.50,612.00 441.90,600.00 442.90,597.14 443.50,595.60 444.10,597.14 445.10,600.00 445.50,612.00" fill="#dcae78"/>
<polygon points="445.50,612.00 445.90,600.00 446.90,594.41 447.50,591.40 448.10,594.41 449.10,600.00 449.50,612.00" fill="#dcae78"/>
<polygon points="450.30,612.00 450.50,600.00 451.00,511.60 451.30,464.00 451.60,511.60 452.10,600.00 452.30,612.00" fill="#dcae78"/>
<polygon points="371.50,630.00 371.50,605.00 377.00,605.00 380.00,603.80 385.00,600.00 390.00,599.00 393.00,591.30 395.00,586.50 398.00,581.70 400.00,577.90 403.00,576.00 408.00,578.80 412.00,577.90 415.00,576.00 418.00,575.00 418.80,590.00 421.00,594.00 425.00,595.00 429.00,594.00 434.00,592.00 435.50,596.00 438.50,599.00 441.00,605.00 445.00,606.00 449.50,606.00 453.00,610.80 453.00,630.00" fill="#eea445"/>
<polygon points="388.00,622.00 388.00,615.40 390.00,613.00 395.00,613.00 400.00,618.50 402.00,612.00 405.00,604.80 409.00,600.00 412.00,597.50 413.70,596.20 416.00,600.00 418.00,604.80 425.00,608.50 435.00,610.00 453.00,610.80 453.00,616.00 440.00,616.20 420.00,620.00 400.00,622.00" fill="#8a4a78"/>
<polygon points="418.00,606.00 425.00,599.20 430.00,596.20 435.00,599.20 440.00,607.00 440.00,610.00 418.00,608.00" fill="#85787e"/>
<polygon points="375.00,630.00 377.00,618.70 385.00,620.80 400.00,622.00 420.00,620.00 440.00,616.20 455.00,615.70 455.00,630.00" fill="#78a45a"/>
<polygon points="453.00,630.00 453.00,610.80 464.30,592.00 464.70,592.00 464.70,630.00" fill="#9c74b0"/>
<polygon points="300.60,630.00 300.60,615.60 313.50,615.60 313.50,630.00" fill="#8191c2"/>
<polygon points="307.30,615.60 307.30,602.60 313.50,602.60 313.50,615.60" fill="#8a9ac8"/>
<polygon points="303.10,616.00 303.90,527.80 304.70,616.00" fill="#7e8cbc"/>
<polygon points="306.80,603.00 307.30,597.00 307.80,603.00" fill="#c8a0a8"/>
<polygon points="313.50,630.00 313.50,615.00 329.10,565.50 329.90,565.50 329.90,608.20 333.00,630.00" fill="#d2705a"/>
<polygon points="315.00,615.00 317.20,581.60 319.50,615.00" fill="#8a7a8a"/>
<polygon points="318.50,612.00 322.80,572.00 323.40,559.90 324.00,572.00 328.50,612.00" fill="#8a6aa0"/>
<polygon points="330.00,630.00 330.00,611.90 335.00,604.50 343.40,582.20 343.60,582.20 343.60,630.00" fill="#e58bb8"/>
<polygon points="313.50,630.00 313.50,612.00 330.00,612.00 343.60,618.00 350.00,630.00" fill="#8a5a7a"/>
<path d="M302.00 617.15H498.00" stroke="#d8d8d8" stroke-width="0.8"/>
<text x="455" y="612.9" font-size="6.2" fill="#222">ALT = 40 units/mL</text>
<path d="M466.80 468.40h13" stroke="#7a88b0" stroke-width="1"/><text x="483.20" y="470.40" font-size="6.2" fill="#333">Patient 1</text><path d="M466.80 476.33h13" stroke="#c08070" stroke-width="1"/><text x="483.20" y="478.33" font-size="6.2" fill="#333">Patient 2</text><path d="M466.80 484.26h13" stroke="#b8c8b8" stroke-width="1"/><text x="483.20" y="486.26" font-size="6.2" fill="#333">Patient 3</text><path d="M466.80 492.19h13" stroke="#8070a0" stroke-width="1"/><text x="483.20" y="494.19" font-size="6.2" fill="#333">Patient 4</text><path d="M466.80 500.12h13" stroke="#f0c090" stroke-width="1"/><text x="483.20" y="502.12" font-size="6.2" fill="#333">Patient 5</text><path d="M466.80 508.05h13" stroke="#90a8d0" stroke-width="1"/><text x="483.20" y="510.05" font-size="6.2" fill="#333">Patient 6</text><path d="M466.80 515.98h13" stroke="#e0a070" stroke-width="1"/><text x="483.20" y="517.98" font-size="6.2" fill="#333">Patient 7</text><path d="M466.80 523.91h13" stroke="#b0d8f0" stroke-width="1"/><text x="483.20" y="525.91" font-size="6.2" fill="#333">Patient 8</text><path d="M466.80 531.84h13" stroke="#a0a080" stroke-width="1"/><text x="483.20" y="533.84" font-size="6.2" fill="#333">Patient 9</text><path d="M466.80 539.77h13" stroke="#e0a8c0" stroke-width="1"/><text x="483.20" y="541.77" font-size="6.2" fill="#333">Patient 10</text>
<rect x="0.75" y="0.75" width="518.5" height="661.5" fill="none" stroke="#4a4a4a" stroke-width="1.5"/>
</svg>
</body></html>
